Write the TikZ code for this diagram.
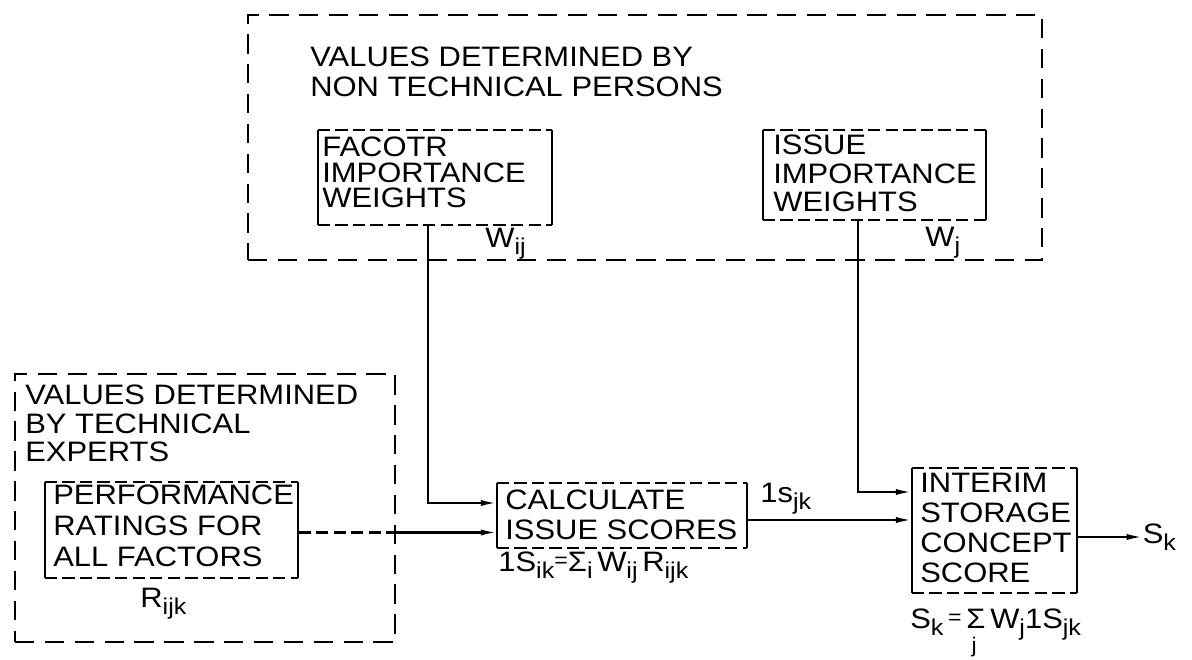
\documentclass[tikz,border=0pt]{standalone}
\usepackage{fontspec}
\setmainfont[FakeStretch=1.1]{Liberation Sans}
\usetikzlibrary{arrows.meta}

% subscript in the same upright lettering
\newcommand{\lo}[1]{\raisebox{-0.45ex}{\fontsize{13}{13}\selectfont #1}}
% box with solid sides and dashed top and bottom
\newcommand{\sidebox}[1]{%
  \draw[smalldash] (#1.north west) -- (#1.north east);
  \draw[smalldash] (#1.south west) -- (#1.south east);
  \draw[wire] (#1.north west) -- (#1.south west);
  \draw[wire] (#1.north east) -- (#1.south east);}

\tikzset{
  wire/.style={line width=1.2pt},
  bigdash/.style={line width=1.2pt, dash pattern=on 11pt off 6pt},
  smalldash/.style={line width=1.2pt, dash pattern=on 7pt off 3pt},
  frame/.style={inner sep=0pt, minimum width=#1},
  lines/.style={align=left, inner sep=0pt, anchor=north west, font=\fontsize{16}{17}\selectfont},
  tight/.style={lines, font=\fontsize{16}{14.5}\selectfont},
  symb/.style={inner sep=0pt, anchor=base west, font=\fontsize{16}{17}\selectfont}
}

\begin{document}
\begin{tikzpicture}[>={Latex[length=9pt,width=3.5pt]}]
  \useasboundingbox (0,0) rectangle (23.84,13.2);

  % Outer dashed frames
  \node[frame=15.88cm, minimum height=4.9cm, draw, bigdash] (nontech) at (12.9,10.45) {};
  \node[frame=7.6cm, minimum height=5.36cm, draw, bigdash] (tech) at (4.1,3.04) {};

  \node[lines] (nontechtxt) at (6.2,12.26) {VALUES DETERMINED BY\\NON TECHNICAL PERSONS};
  \node[lines, font=\fontsize{16}{16}\selectfont] (techtxt) at (0.5,5.5) {VALUES DETERMINED\\BY TECHNICAL\\EXPERTS};

  % Inner boxes
  \node[frame=4.68cm, minimum height=1.9cm] (facbox) at (8.7,9.65) {};
  \node[frame=4.46cm, minimum height=1.8cm] (issbox) at (17.49,9.7) {};
  \node[frame=5.06cm, minimum height=1.9cm] (perfbox) at (3.43,2.6) {};
  \node[frame=5.0cm, minimum height=1.3cm] (calcbox) at (12.44,2.89) {};
  \node[frame=3.3cm, minimum height=2.5cm] (interimbox) at (19.89,2.59) {};
  \sidebox{facbox}
  \sidebox{issbox}
  \sidebox{perfbox}
  \sidebox{calcbox}
  \sidebox{interimbox}

  \node[tight] (factxt) at (6.44,10.46) {FACOTR\\IMPORTANCE\\WEIGHTS};
  \node[tight, font=\fontsize{16}{16}\selectfont] (isstxt) at (15.46,10.5) {ISSUE\\IMPORTANCE\\WEIGHTS};
  \node[lines, font=\fontsize{16}{17.6}\selectfont] (perftxt) at (1.06,3.5) {PERFORMANCE\\RATINGS FOR\\ALL FACTORS};
  \node[lines] (calctxt) at (10.1,3.4) {CALCULATE\\ISSUE SCORES};
  \node[lines] (interimtxt) at (18.4,3.74) {INTERIM\\STORAGE\\CONCEPT\\SCORE};

  % Symbols and formulas
  \node[symb] (wij) at (9.7,8.24) {W\lo{ij}};
  \node[symb] (wj) at (18.5,8.26) {W\lo{j}};
  \node[symb] (rijk) at (2.8,1.04) {R\lo{ijk}};
  \node[symb] (isform) at (9.96,1.76) {1S\lo{ik}\raisebox{0.3ex}{\fontsize{12}{12}\selectfont=}Σ\lo{i}\,W\lo{ij}\,R\lo{ijk}};
  \node[symb] (issc) at (15.2,3.14) {1s\lo{jk}};
  \node[symb] (skform) at (18.2,0.62) {S\lo{k}\,\raisebox{0.3ex}{\fontsize{12}{12}\selectfont=}\,\rlap{\kern3pt\raisebox{-0.85em}{\fontsize{12}{12}\selectfont j}}Σ\,W\lo{j}1S\lo{jk}};
  \node[symb, anchor=west] (sk) at (22.85,2.46) {S\lo{k}};

  % Connectors
  \draw[wire, ->] ([xshift=-1.4mm]facbox.south) |- ([yshift=2.5mm]calcbox.west);
  \draw[smalldash] ([yshift=-0.5mm]perfbox.east) -- ([yshift=-0.5mm]perfbox.east -| tech.east);
  \draw[wire, ->] ([yshift=-0.5mm]perfbox.east -| tech.east) -- ([yshift=-0.5mm]perfbox.east -| calcbox.west);
  \draw[wire, ->] ([yshift=-0.9mm]calcbox.east) -- ([yshift=-0.9mm]calcbox.east -| interimbox.west);
  \draw[wire, ->] ([xshift=-3.3mm]issbox.south) |- ([yshift=7.7mm]interimbox.west);
  \draw[wire, ->] ([yshift=-1.3mm]interimbox.east) -- ([yshift=-1.3mm]interimbox.east -| sk.west);
\end{tikzpicture}
\end{document}
